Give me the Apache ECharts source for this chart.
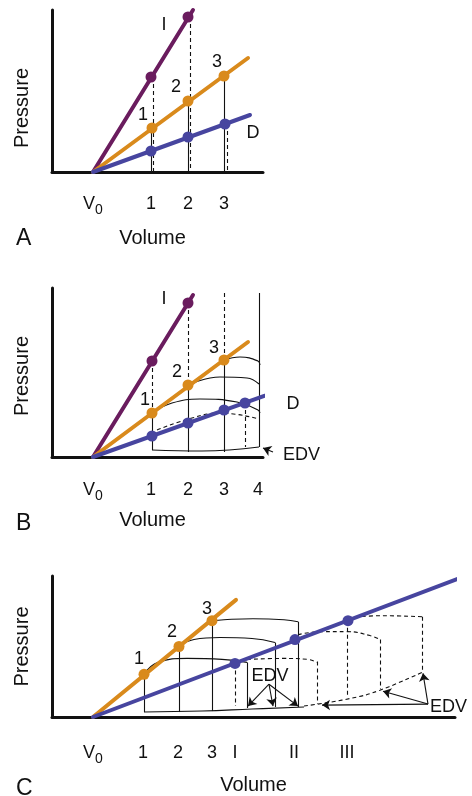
<!DOCTYPE html>
<html>
<head>
<meta charset="utf-8">
<script src="https://cdn.jsdelivr.net/npm/echarts@6/dist/echarts.min.js"></script>
<style>
  html, body { margin: 0; background: #fff; }
  #chart { width: 472px; height: 796px; }
</style>
</head>
<body>
<div id="chart"></div>
<script>
  // 颜色
  const PURPLE = '#6a1c5e'
  const ORANGE = '#d98a1c'
  const BLUE = '#47459f'
  const INK = '#111'
  const FONT = '"Liberation Sans", Arial, sans-serif'

  // ---- panel A (volume / pressure in drawing units, V0 = 41)
  const aTicks = [41, 99, 136, 172]
  const aTickLabels = ['V0', '1', '2', '3']
  const aLineI = [[41, 0], [141, 162]]
  const aLineMid = [[41, 0], [196, 114]]
  const aLineD = [[41, 0], [198, 57]]
  const aDotsI = [[99, 95], [136, 155]]
  const aDotsMid = [[100, 44], [136, 71], [172, 96]]
  const aDotsD = [[99, 21], [136, 35], [173, 48]]
  const aSolidDrops = [[99, 44, 0], [136, 71, 0], [172, 96, 0]]
  const aDashDrops = [[101, 95, 0], [138, 155, 0], [175, 48, 0]]
  const aNotes = [[112, 147, 'I'], [91, 57, '1'], [124, 85, '2'], [165, 110, '3'], [201, 39, 'D']]

  // ---- panel B
  const bTicks = [41, 99, 136, 172, 206]
  const bTickLabels = ['V0', '1', '2', '3', '4']
  const bLineI = [[41, 0], [141, 162]]
  const bLineMid = [[41, 0], [196, 115]]
  const bLineD = [[41, 0], [248, 74]]
  const bDotsI = [[100, 96], [136, 154]]
  const bDotsMid = [[100, 44], [136, 72], [172, 97]]
  const bDotsD = [[100, 21], [136, 34], [172, 47], [193, 54]]
  const bSolidDrops = [[100, 44, 7], [136, 72, 5], [172, 97, 5], [207, 164, 10]]
  const bDashDrops = [[100, 96, 44], [136, 154, 72], [172, 164, 97], [193, 54, 10]]
  const bLoops = [
    [[172, 97], [188, 100], [206, 96], [208, 92]],
    [[136, 72], [168, 80], [195, 79], [207, 73]],
    [[100, 44], [120, 54], [148, 58], [185, 55], [206, 47], [208, 44]],
    [[100, 7], [150, 6], [207, 10]]
  ]
  const bDashLoops = [[[105, 27], [140, 39], [168, 44], [207, 38]]]
  const bArrows = [[[221, 5], [211, 9]]]
  const bNotes = [[112, 158, 'I'], [93, 57, '1'], [125, 85, '2'], [162, 109, '3'], [241, 53, 'D']]
  const bEdv = [[231, 2, 'EDV']]

  // ---- panel C
  const cTicks = [41, 91, 126, 160, 183, 242, 295]
  const cTickLabels = ['V0', '1', '2', '3', 'I', 'II', 'III']
  const cLineMid = [[41, 0], [184, 118]]
  const cLineD = [[41, 0], [408, 140]]
  const cDotsMid = [[92, 43], [127, 71], [160, 97]]
  const cDotsD = [[183, 54], [243, 78], [296, 97]]
  const cSolidDrops = [[92, 43, 5], [127, 71, 5], [160, 97, 6], [195, 55, 9], [223, 75, 10], [246, 96, 10]]
  const cDashDrops = [[183, 54, 11], [265, 56, 13], [295, 97, 21], [328, 78, 28], [370, 101, 45]]
  const cLoops = [
    [[92, 43], [106, 55], [135, 59], [170, 58], [195, 55]],
    [[127, 71], [142, 78], [168, 80], [200, 79], [223, 75]],
    [[160, 97], [172, 98], [201, 99], [232, 98], [246, 96]],
    [[92, 5], [150, 6], [200, 8], [252, 10]]
  ]
  const cDashLoops = [
    [[195, 58], [230, 59], [256, 58], [265, 55]],
    [[246, 83], [270, 86], [295, 86], [318, 82], [328, 78]],
    [[296, 100], [330, 102], [370, 101]],
    [[252, 11], [300, 19], [328, 27], [370, 45]]
  ]
  const cArrows = [
    [[217, 33], [196, 11]], [[217, 33], [221, 11]], [[217, 33], [246, 11]],
    [[376, 13], [270, 12]], [[376, 13], [331, 26]], [[376, 13], [371, 44]]
  ]
  const cNotes = [[87, 58, '1'], [120, 86, '2'], [155, 109, '3']]
  const cEdvLeft = [[218, 41, 'EDV']]
  const cEdvRight = [[378, 10, 'EDV']]

  // 网格
  const grids = [
    { left: 52, top: 10, width: 211, height: 162 },
    { left: 52, top: 288, width: 211, height: 169 },
    { left: 52, top: 576, width: 403, height: 142 }
  ]
  const ticks = [[aTicks, aTickLabels], [bTicks, bTickLabels], [cTicks, cTickLabels]]
  const labelMargins = [23, 24, 27]
  const nameGaps = [56, 53, 58]
  const namePads = [[0, 10, 0, 0], [0, 10, 0, 0], [0, 0, 0, 0]]
  const pressurePads = [[0, 34, 0, 0], [0, 7, 0, 0], [0, 0, 0, 0]]

  const axisLine = { show: true, lineStyle: { color: INK, width: 3 } }

  const xAxis = grids.map((g, i) => ({
    type: 'value', gridIndex: i, min: 0, max: g.width,
    axisLine, axisTick: { show: false }, splitLine: { show: false },
    axisLabel: {
      show: true,
      customValues: ticks[i][0],
      margin: labelMargins[i],
      color: INK, fontSize: 18, fontFamily: FONT,
      formatter: (v) => {
        const t = ticks[i][1][ticks[i][0].indexOf(v)]
        return t === 'V0' ? '{v|V}{s|0}' : t
      },
      rich: {
        v: { fontSize: 18, fontFamily: FONT, color: INK, padding: [0, 0, 4, 0] },
        s: { fontSize: 14, fontFamily: FONT, color: INK, padding: [8, 0, 0, 0] }
      }
    },
    name: 'Volume', nameLocation: 'middle', nameGap: nameGaps[i],
    nameTextStyle: { color: INK, fontSize: 20, fontFamily: FONT, padding: namePads[i] }
  }))

  const yAxis = grids.map((g, i) => ({
    type: 'value', gridIndex: i, min: 0, max: g.height,
    axisLine, axisTick: { show: false }, splitLine: { show: false },
    axisLabel: { show: false },
    name: 'Pressure', nameLocation: 'middle', nameGap: 20, nameRotate: 90,
    nameTextStyle: { color: INK, fontSize: 20, fontFamily: FONT, padding: pressurePads[i] }
  }))

  // 系列
  const series = []
  const drop = ([x, top, bottom]) => [[x, top], [x, bottom]]
  const base = (gi) => ({ xAxisIndex: gi, yAxisIndex: gi, silent: true, animation: false })

  const segs = (gi, list, dashed, arrow) => series.push({
    ...base(gi), type: 'lines', coordinateSystem: 'cartesian2d', clip: false, z: 2,
    symbol: arrow ? ['none', 'arrow'] : 'none', symbolSize: [6, 8],
    lineStyle: { color: INK, width: 1.1, opacity: 1, type: dashed ? [4, 3] : 'solid' },
    data: list.map((c) => ({ coords: c }))
  })
  const curve = (gi, pts, dashed) => series.push({
    ...base(gi), type: 'line', data: pts, smooth: 0.45, showSymbol: false, clip: false, z: 2,
    lineStyle: { color: INK, width: 1.1, type: dashed ? [4, 3] : 'solid' }
  })
  const ray = (gi, pts, color) => series.push({
    ...base(gi), type: 'line', data: pts, showSymbol: false, clip: false, z: 3,
    lineStyle: { color, width: 4, cap: 'round' }
  })
  const dots = (gi, pts, color) => series.push({
    ...base(gi), type: 'scatter', data: pts, symbolSize: 11, clip: false, z: 4,
    itemStyle: { color, opacity: 1 }
  })
  const notes = (gi, list, align) => series.push({
    ...base(gi), type: 'scatter', symbolSize: 1, clip: false, z: 5,
    itemStyle: { color: 'transparent', opacity: 1 },
    data: list.map(([x, y, t]) => ({ value: [x, y], name: t })),
    label: {
      show: true, position: 'inside', align: align || 'center',
      formatter: (p) => p.name, color: INK, opacity: 1, fontSize: 18, fontFamily: FONT
    }
  })

  // A
  segs(0, aSolidDrops.map(drop), false)
  segs(0, aDashDrops.map(drop), true)
  ray(0, aLineI, PURPLE); ray(0, aLineMid, ORANGE); ray(0, aLineD, BLUE)
  dots(0, aDotsI, PURPLE); dots(0, aDotsMid, ORANGE); dots(0, aDotsD, BLUE)
  notes(0, aNotes)

  // B
  segs(1, bSolidDrops.map(drop), false)
  segs(1, bDashDrops.map(drop), true)
  bLoops.forEach((p) => curve(1, p, false))
  bDashLoops.forEach((p) => curve(1, p, true))
  segs(1, bArrows, false, true)
  ray(1, bLineI, PURPLE); ray(1, bLineMid, ORANGE); ray(1, bLineD, BLUE)
  dots(1, bDotsI, PURPLE); dots(1, bDotsMid, ORANGE); dots(1, bDotsD, BLUE)
  notes(1, bNotes)
  notes(1, bEdv, 'left')

  // C
  segs(2, cSolidDrops.map(drop), false)
  segs(2, cDashDrops.map(drop), true)
  cLoops.forEach((p) => curve(2, p, false))
  cDashLoops.forEach((p) => curve(2, p, true))
  segs(2, cArrows, false, true)
  ray(2, cLineMid, ORANGE); ray(2, cLineD, BLUE)
  dots(2, cDotsMid, ORANGE); dots(2, cDotsD, BLUE)
  notes(2, cNotes)
  notes(2, cEdvLeft)
  notes(2, cEdvRight, 'left')

  const panelTitle = (text, top) => ({
    text, left: 11, top, textStyle: { color: INK, fontSize: 23, fontWeight: 'normal', fontFamily: FONT }
  })

  const chart = echarts.init(document.getElementById('chart'))
  chart.setOption({
    animation: false,
    title: [panelTitle('A', 222), panelTitle('B', 507), panelTitle('C', 772)],
    grid: grids,
    xAxis,
    yAxis,
    series
  })
</script>
</body>
</html>
